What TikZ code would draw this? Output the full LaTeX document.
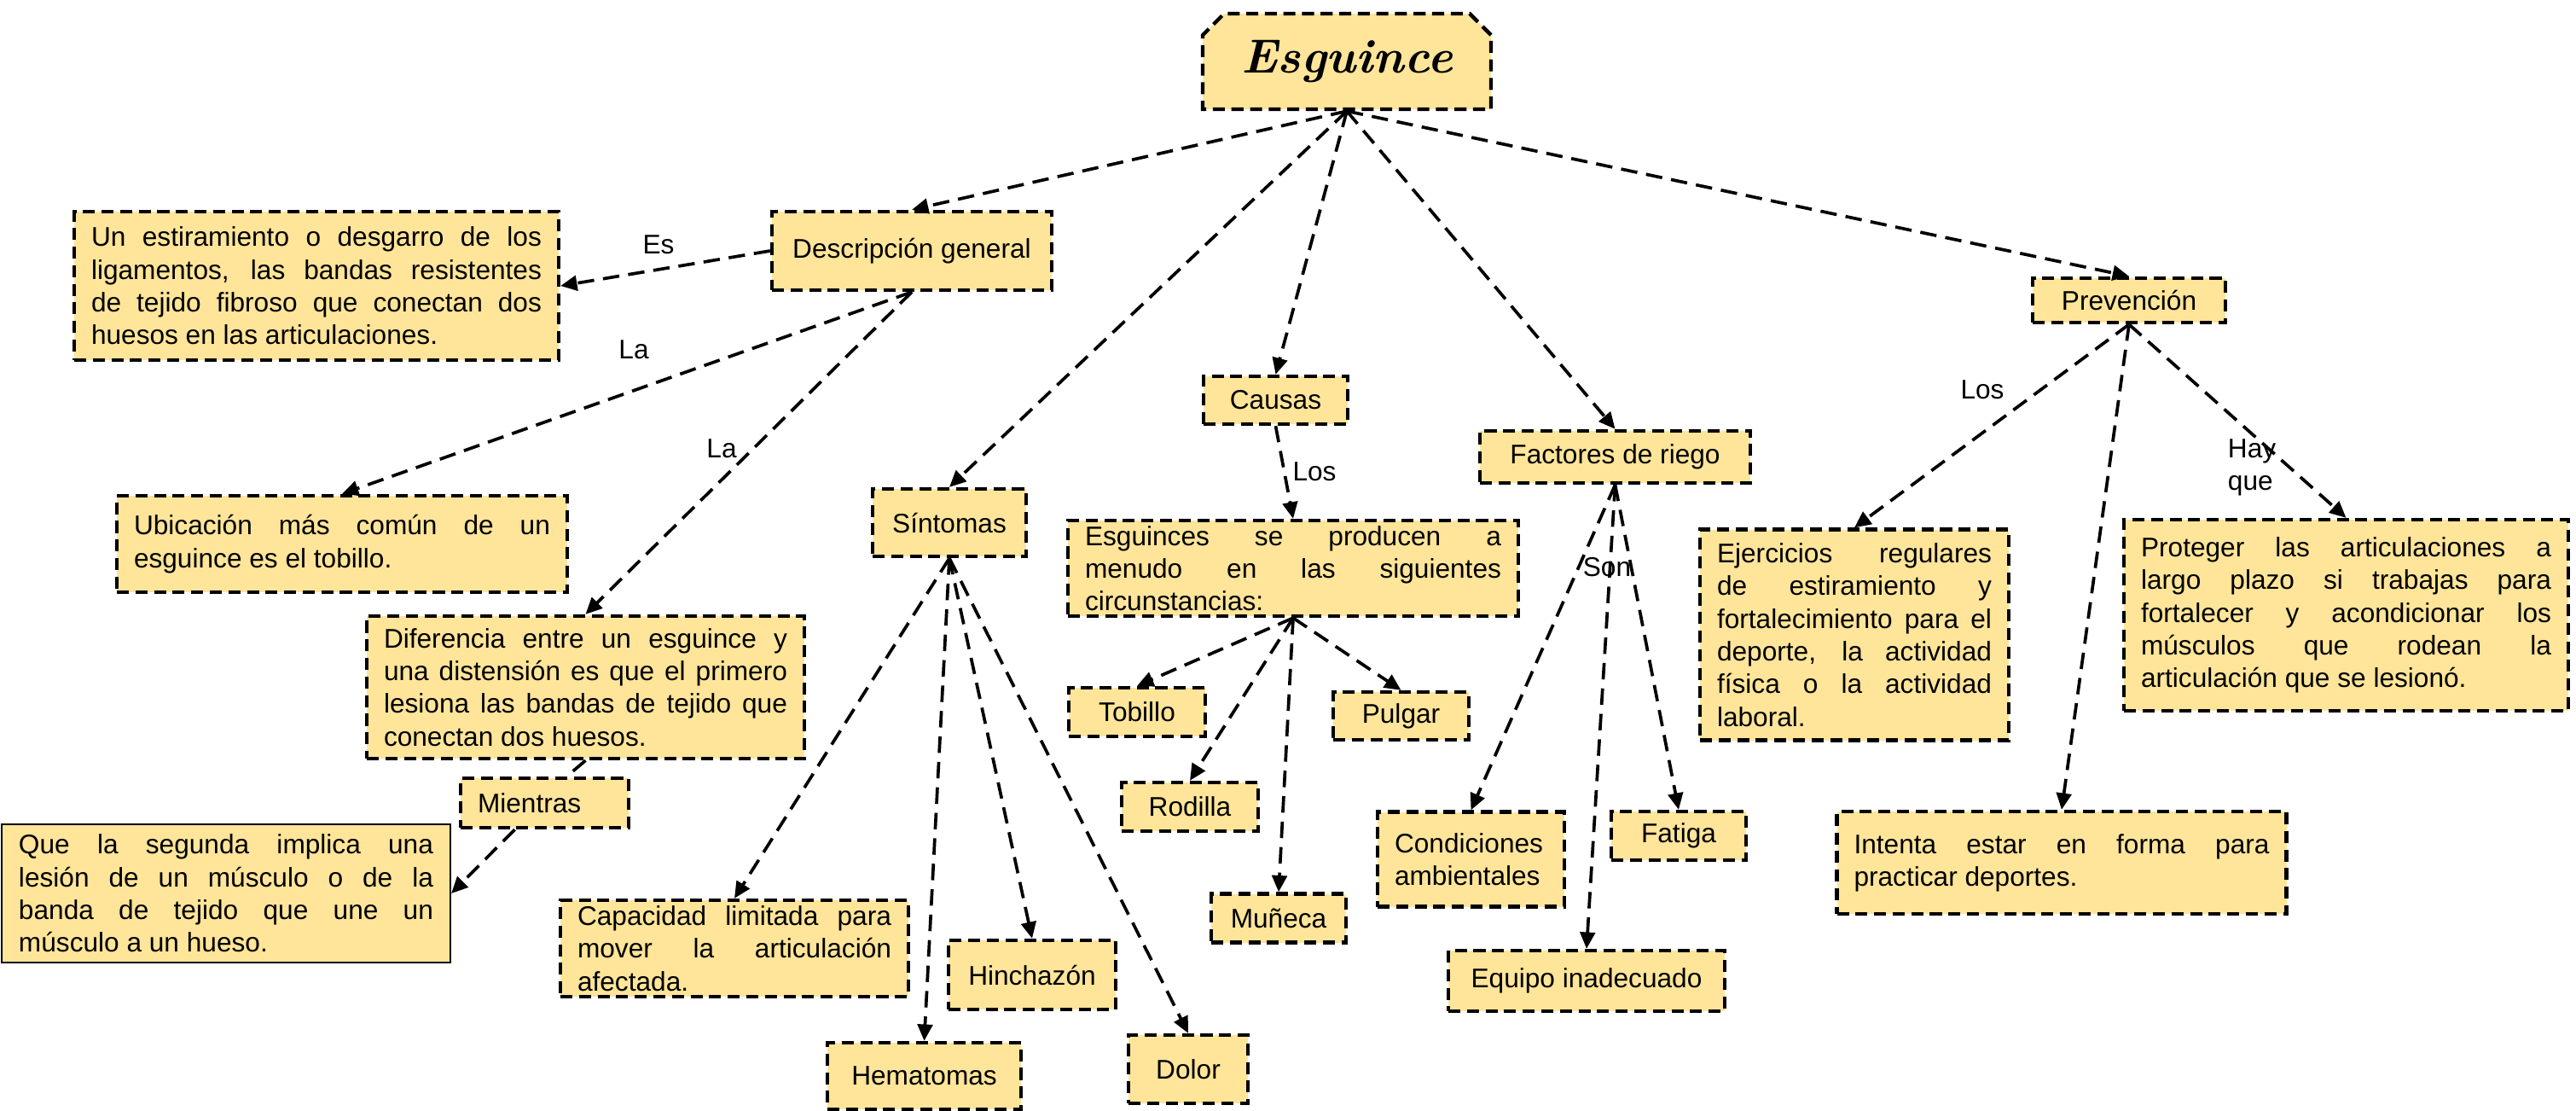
\documentclass[tikz,border=0pt]{standalone}
\usepackage{fontspec}
\newfontfamily\arialf{Liberation Sans}
\usetikzlibrary{arrows.meta,shapes.misc}
\definecolor{boxfill}{HTML}{FFE599}
\tikzset{
  box/.style={draw, fill=boxfill, line width=1.25pt, dash pattern=on 4pt off 2.2pt,
    inner xsep=0.2cm, inner ysep=0.05cm, font=\arialf\fontsize{9}{10.9}\selectfont},
  para/.style={box, align=justify, text width=#1},
  leftbox/.style={box, align=left, text width=#1},
  link/.style={-{Triangle[length=5.5pt,width=5pt]}, line width=1.05pt, dash pattern=on 5.5pt off 3pt},
  lbl/.style={inner sep=0pt, font=\arialf\fontsize{9}{10.9}\selectfont}
}
\begin{document}
\begin{tikzpicture}
\useasboundingbox (0,0) rectangle (30.2,-13.01);

\node[box, chamfered rectangle, chamfered rectangle corners={north west,north east},
  chamfered rectangle xsep=0.15cm, minimum width=3.38cm, minimum height=1.12cm,
  font=\rmfamily\bfseries\itshape\fontsize{16}{18}\selectfont] (title) at (15.79,-0.72) {Esguince};

\node[box, minimum width=3.28cm, minimum height=0.92cm] (desc) at (10.69,-2.94) {Descripción general};
\node[para=5.28cm, minimum height=1.74cm] (defin) at (3.71,-3.35) {Un estiramiento o desgarro de los\linebreak ligamentos, las bandas resistentes\linebreak de tejido fibroso que conectan dos\linebreak huesos en las articulaciones.};
\node[para=4.88cm, minimum height=1.13cm] (ubic) at (4.01,-6.375) {Ubicación más común de un\linebreak esguince es el tobillo.};
\node[para=4.73cm, minimum height=1.67cm] (difer) at (6.865,-8.055) {Diferencia entre un esguince y\linebreak una distensión es que el primero\linebreak lesiona las bandas de tejido que\linebreak conectan dos huesos.};
\node[leftbox=1.57cm, minimum height=0.58cm] (mient) at (6.385,-9.41) {Mientras};
\node[para=4.86cm, minimum height=1.62cm, solid, line width=0.6pt] (segunda) at (2.65,-10.47) {Que la segunda implica una\linebreak lesión de un músculo o de la\linebreak banda de tejido que une un\linebreak músculo a un hueso.};

\node[box, minimum width=1.80cm, minimum height=0.79cm] (sint) at (11.13,-6.125) {Síntomas};
\node[para=3.68cm, minimum height=1.13cm] (capac) at (8.61,-11.115) {Capacidad limitada para\linebreak mover la articulación\linebreak afectada.};
\node[box, minimum width=1.96cm, minimum height=0.81cm] (hinch) at (12.10,-11.425) {Hinchazón};
\node[box, minimum width=2.27cm, minimum height=0.78cm] (hemat) at (10.835,-12.61) {Hematomas};
\node[box, minimum width=1.40cm, minimum height=0.80cm] (dolor) at (13.93,-12.53) {Dolor};

\node[box, minimum width=1.69cm, minimum height=0.56cm] (causas) at (14.955,-4.69) {Causas};
\node[para=4.88cm, minimum height=1.12cm] (produc) at (15.16,-6.66) {Esguinces se producen a\linebreak menudo en las siguientes\linebreak circunstancias:};
\node[box, minimum width=1.60cm, minimum height=0.57cm] (tobil) at (13.33,-8.345) {Tobillo};
\node[box, minimum width=1.59cm, minimum height=0.56cm] (pulg) at (16.425,-8.39) {Pulgar};
\node[box, minimum width=1.60cm, minimum height=0.57cm] (rodil) at (13.95,-9.455) {Rodilla};
\node[box, minimum width=1.58cm, minimum height=0.57cm] (mun) at (14.99,-10.76) {Muñeca};

\node[box, minimum width=3.17cm, minimum height=0.61cm] (fact) at (18.935,-5.355) {Factores de riego};
\node[leftbox=1.79cm, minimum height=1.11cm] (cond) at (17.245,-10.07) {Condiciones\\ambientales};
\node[box, minimum width=1.58cm, minimum height=0.57cm] (fatig) at (19.68,-9.795) {Fatiga};
\node[box, minimum width=3.24cm, minimum height=0.71cm] (equip) at (18.60,-11.495) {Equipo inadecuado};

\node[box, minimum width=2.265cm, minimum height=0.52cm] (prev) at (24.96,-3.52) {Prevención};
\node[para=3.22cm, minimum height=2.47cm] (ejerc) at (21.74,-7.44) {Ejercicios regulares\linebreak de estiramiento y\linebreak fortalecimiento para el\linebreak deporte, la actividad\linebreak física o la actividad\linebreak laboral.};
\node[para=4.87cm, minimum height=1.20cm] (inten) at (24.17,-10.11) {Intenta estar en forma para\linebreak practicar deportes.};
\node[para=4.81cm, minimum height=2.24cm] (prot) at (27.505,-7.21) {Proteger las articulaciones a\linebreak largo plazo si trabajas para\linebreak fortalecer y acondicionar los\linebreak músculos que rodean la\linebreak articulación que se lesionó.};

\node[lbl] (lblEs) at (7.72,-2.87) {Es};
\node[lbl] (lblLaA) at (7.43,-4.10) {La};
\node[lbl] (lblLaB) at (8.46,-5.26) {La};
\node[lbl] (lblLosA) at (15.41,-5.53) {Los};
\node[lbl] (lblSon) at (18.84,-6.65) {Son};
\node[lbl] (lblLosB) at (23.24,-4.57) {Los};
\node[lbl, align=left] (lblHay) at (26.40,-5.48) {Hay\\que};

\draw[link] (title.south) -- (desc.north);
\draw[link] (title.south) -- (sint.north);
\draw[link] (title.south) -- (causas.north);
\draw[link] (title.south) -- (fact.north);
\draw[link] (title.south) -- (prev.north);

\draw[link] (desc.west) -- (defin.east);
\draw[link] (desc.south) -- (ubic.north);
\draw[link] (desc.south) -- (difer.north);
\draw[link, -] (difer.south) -- ([xshift=0.26cm]mient.north);
\draw[link] ([xshift=-0.35cm]mient.south) -- (segunda.east);

\draw[link] (sint.south) -- (capac.north);
\draw[link] (sint.south) -- (hemat.north);
\draw[link] (sint.south) -- (hinch.north);
\draw[link] (sint.south) -- (dolor.north);

\draw[link] (causas.south) -- (produc.north);
\draw[link] (produc.south) -- (tobil.north);
\draw[link] (produc.south) -- (rodil.north);
\draw[link] (produc.south) -- (mun.north);
\draw[link] (produc.south) -- (pulg.north);

\draw[link] (fact.south) -- (cond.north);
\draw[link] (fact.south) -- (equip.north);
\draw[link] (fact.south) -- (fatig.north);

\draw[link] (prev.south) -- (ejerc.north);
\draw[link] (prev.south) -- (inten.north);
\draw[link] (prev.south) -- (prot.north);
\end{tikzpicture}
\end{document}
